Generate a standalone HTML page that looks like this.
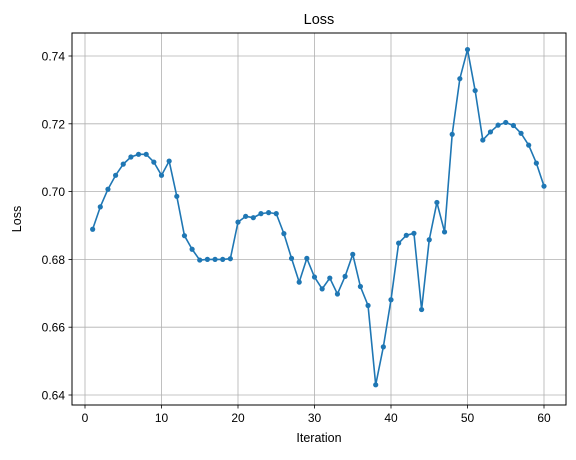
<!DOCTYPE html>
<html><head><meta charset="utf-8"><style>
body{margin:0;background:#fff}
svg text{font-family:"Liberation Sans","DejaVu Sans",sans-serif;fill:#000}
</style></head><body>
<svg id="chart" width="576" height="455" xmlns="http://www.w3.org/2000/svg">
<rect width="576" height="455" fill="#fff"/>
<text x="319" y="24" font-size="14.5" text-anchor="middle">Loss</text>
<g id="grid"></g>
<g id="ticks"></g>
<g id="series"></g>
<rect x="72" y="33" width="494" height="372" fill="none" stroke="#000" stroke-width="1"/>
<text x="319" y="442" font-size="12.5" text-anchor="middle">Iteration</text>
<text x="0" y="0" font-size="12.5" text-anchor="middle" transform="translate(21,219) rotate(-90)">Loss</text>
</svg>
<script>
const iterations = [];
for (let i = 1; i <= 60; i++) iterations.push(i);
const lossValues = [0.6889,0.6955,0.7007,0.7048,0.7081,0.7102,0.7110,0.7110,0.7087,0.7048,
0.7090,0.6986,0.6870,0.6830,0.6798,0.6800,0.6800,0.6800,0.6802,0.6910,
0.6927,0.6923,0.6935,0.6938,0.6935,0.6876,0.6803,0.6733,0.6803,0.6748,
0.6713,0.6745,0.6698,0.6750,0.6815,0.6720,0.6664,0.6430,0.6542,0.6681,
0.6848,0.6871,0.6877,0.6652,0.6858,0.6968,0.6881,0.7169,0.7333,0.7419,
0.7298,0.7152,0.7176,0.7196,0.7204,0.7195,0.7172,0.7137,0.7084,0.7016];
const xTicks = [0,10,20,30,40,50,60];
const yTicks = [0.64,0.66,0.68,0.70,0.72,0.74];
const NS = "http://www.w3.org/2000/svg";
const xs = v => 85 + v * 7.65;
const ys = v => 56 + (0.74 - v) * 3390;
const grid = document.getElementById('grid'), ticks = document.getElementById('ticks'), series = document.getElementById('series');
function mk(tag, attrs, parent){const e=document.createElementNS(NS,tag);for(const k in attrs)e.setAttribute(k,attrs[k]);parent.appendChild(e);return e;}
xTicks.forEach(t=>{
  const x=xs(t);
  const g=mk('line',{x1:x,x2:x,y1:33,y2:405,stroke:'#b0b0b0','stroke-width':0.8},grid);
  
  
  mk('line',{x1:x,x2:x,y1:405,y2:408.5,stroke:'#000','stroke-width':0.8},ticks);
  const l=mk('text',{x:x,y:422,'font-size':12,'text-anchor':'middle'},ticks);
  l.textContent=t;
  
  
});
yTicks.forEach(t=>{
  const y=ys(t);
  const g=mk('line',{x1:72,x2:566,y1:y,y2:y,stroke:'#b0b0b0','stroke-width':0.8},grid);
  
  
  mk('line',{x1:68.5,x2:72,y1:y,y2:y,stroke:'#000','stroke-width':0.8},ticks);
  const l=mk('text',{x:65,y:y+4.5,'font-size':12,'text-anchor':'end'},ticks);
  l.textContent=t.toFixed(2);
  
  
});
const pts=iterations.map((it,i)=>xs(it)+','+ys(lossValues[i])).join(' ');
const line=mk('polyline',{points:pts,fill:'none',stroke:'#1f77b4','stroke-width':1.6,'stroke-linejoin':'round'},series);


iterations.forEach((it,i)=>{
  const c=mk('circle',{cx:xs(it),cy:ys(lossValues[i]),r:2.6,fill:'#1f77b4'},series);
  
  
});
</script>
</body></html>
